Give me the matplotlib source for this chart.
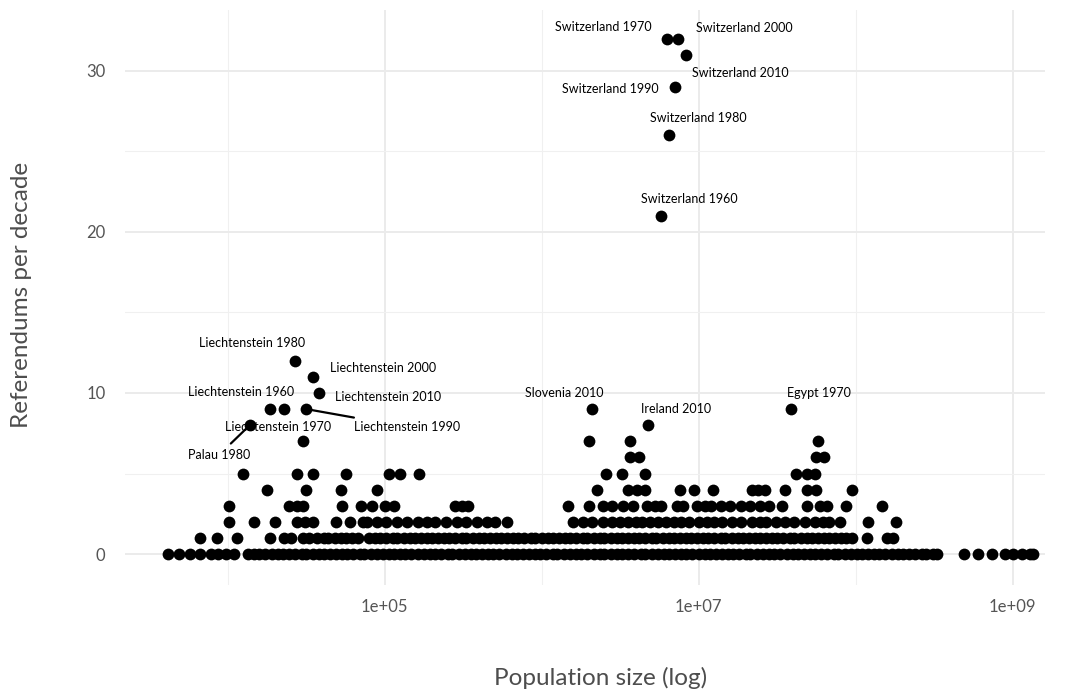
import matplotlib
matplotlib.use("Agg")
import matplotlib.pyplot as plt
from matplotlib.ticker import FixedLocator, FixedFormatter
import numpy as np

# log10 of population size, one list per number of referendums in the decade
refs_0 = [3.62, 3.69, 3.76, 3.82, 3.89, 3.94, 3.99, 4.04,
          4.13, 4.17, 4.20, 4.24, 4.28, 4.32, 4.35, 4.39, 4.43, 4.47, 4.50, 4.54,
          4.58, 4.61, 4.65, 4.69, 4.73, 4.76, 4.80, 4.84, 4.87, 4.91, 4.95, 4.99,
          5.03, 5.06, 5.10, 5.13, 5.17, 5.21, 5.25, 5.29, 5.32, 5.36, 5.40, 5.43,
          5.47, 5.51, 5.55, 5.58, 5.62, 5.66, 5.69, 5.73, 5.77, 5.81, 5.84, 5.88,
          5.92, 5.96, 5.99, 6.03, 6.07, 6.10, 6.14, 6.18, 6.22, 6.25, 6.29, 6.33,
          6.37, 6.40, 6.44, 6.48, 6.51, 6.55, 6.59, 6.63, 6.66, 6.70, 6.74, 6.78,
          6.81, 6.85, 6.89, 6.92, 6.96, 7.00, 7.04, 7.07, 7.11, 7.15, 7.19, 7.22,
          7.26, 7.30, 7.33, 7.37, 7.41, 7.45, 7.48, 7.52, 7.56, 7.60, 7.63, 7.67,
          7.71, 7.74, 7.78, 7.82, 7.86, 7.89, 7.93, 7.97, 8.01, 8.04, 8.08, 8.12,
          8.15, 8.19, 8.23, 8.27, 8.30, 8.34, 8.38, 8.42, 8.45, 8.49, 8.52,
          8.69, 8.78, 8.87, 8.95, 9.00, 9.06, 9.11, 9.13]
refs_1 = [3.82, 3.93, 4.06, 4.27, 4.36, 4.40, 4.48, 4.52,
          4.57, 4.61, 4.64, 4.68, 4.72, 4.75, 4.79, 4.83, 4.90, 4.94, 4.97, 5.01,
          5.05, 5.08, 5.12, 5.16, 5.19, 5.23, 5.27, 5.30, 5.34, 5.38, 5.41, 5.45,
          5.49, 5.52, 5.56, 5.60, 5.63, 5.67, 5.71, 5.74, 5.78, 5.82, 5.85, 5.89,
          5.93, 5.96, 6.00, 6.04, 6.07, 6.11, 6.15, 6.18, 6.22, 6.26, 6.29, 6.33,
          6.37, 6.40, 6.44, 6.48, 6.51, 6.55, 6.59, 6.62, 6.66, 6.70, 6.73, 6.77,
          6.81, 6.84, 6.88, 6.92, 6.95, 6.99, 7.03, 7.06, 7.10, 7.14, 7.17, 7.21,
          7.25, 7.28, 7.32, 7.36, 7.39, 7.43, 7.47, 7.50, 7.54, 7.58, 7.61, 7.65,
          7.69, 7.72, 7.76, 7.80, 7.83, 7.87, 7.91, 7.94, 7.98, 8.07, 8.20, 8.24]
refs_2 = [4.01, 4.17, 4.30, 4.44, 4.49, 4.54, 4.69, 4.78, 4.86, 4.89, 4.95,
          5.01, 5.08, 5.14, 5.21, 5.27, 5.32, 5.39, 5.46, 5.52, 5.59, 5.65, 5.70,
          5.78, 6.20, 6.26, 6.32, 6.39, 6.45, 6.50, 6.55, 6.60, 6.64, 6.69, 6.74,
          6.79, 6.84, 6.89, 6.94, 7.00, 7.05, 7.10, 7.15, 7.21, 7.27, 7.34, 7.39,
          7.43, 7.49, 7.55, 7.61, 7.68, 7.74, 7.79, 7.83, 7.90, 8.08, 8.26]
refs_3 = [4.01, 4.39, 4.44, 4.48, 4.73, 4.85, 4.92, 5.00, 5.06, 5.45, 5.49,
          5.53, 6.17, 6.30, 6.39, 6.45, 6.52, 6.58, 6.67, 6.72, 6.76, 6.86, 6.90,
          6.99, 7.04, 7.08, 7.14, 7.20, 7.27, 7.33, 7.39, 7.45, 7.53, 7.69, 7.77,
          7.82, 7.94, 8.17]
refs_4 = [4.25, 4.50, 4.72, 4.95, 6.35, 6.55, 6.61, 6.66, 6.88, 6.97, 7.09,
          7.34, 7.38, 7.42, 7.55, 7.69, 7.75, 7.98]
refs_5 = [4.10, 4.44, 4.54, 4.75, 5.03, 5.10, 5.22, 6.41, 6.51, 6.66, 7.62,
          7.69, 7.74]
refs_6 = [6.56, 6.62, 7.75, 7.80]
refs_7 = [4.48, 6.30, 6.56, 7.76]
refs_8 = [4.14, 6.68]
refs_9 = [4.27, 4.36, 4.50, 6.32, 7.59]
refs_10 = [4.58]
refs_11 = [4.54]
refs_12 = [4.43]
refs_21 = [6.76]
refs_26 = [6.81]
refs_29 = [6.85]
refs_31 = [6.92]
refs_32 = [6.80, 6.87]

rows = {0: refs_0, 1: refs_1, 2: refs_2, 3: refs_3, 4: refs_4, 5: refs_5,
        6: refs_6, 7: refs_7, 8: refs_8, 9: refs_9, 10: refs_10, 11: refs_11,
        12: refs_12, 21: refs_21, 26: refs_26, 29: refs_29, 31: refs_31,
        32: refs_32}

label_text = ["Switzerland 1970", "Switzerland 2000", "Switzerland 2010",
              "Switzerland 1990", "Switzerland 1980", "Switzerland 1960",
              "Liechtenstein 1980", "Liechtenstein 2000", "Liechtenstein 1960",
              "Liechtenstein 2010", "Liechtenstein 1970", "Liechtenstein 1990",
              "Palau 1980", "Slovenia 2010", "Ireland 2010", "Egypt 1970"]
label_logpop = [6.80, 6.87, 6.92, 6.85, 6.81, 6.76, 4.43, 4.54, 4.27, 4.58,
                4.48, 4.50, 4.14, 6.32, 6.68, 7.59]
label_refs = [32, 32, 31, 29, 26, 21, 12, 11, 9, 10, 7, 9, 8, 9, 8, 9]

# text offsets from the point, in pixels (layout only)
offsets = [(-64, 12), (66, 11), (54, -18), (-65, -2), (29, 17), (28, 17),
           (-43, 18), (71, 9), (-29, 17), (69, -4), (-25, 14), (101, -18),
           (-31, -30), (-28, 16), (28, 16), (28, 16)]
with_line = {"Liechtenstein 1990", "Palau 1980"}

plt.rcParams["font.family"] = ["Lato", "DejaVu Sans"]

fig = plt.figure(figsize=(10.67, 6.90), dpi=100)
ax = fig.add_axes([0.117, 0.152, 0.862, 0.834])

xs, ys = [], []
for r, vals in rows.items():
    xs.extend(10 ** np.array(vals))
    ys.extend([r] * len(vals))
ax.scatter(xs, ys, s=72, color="black", linewidths=0, zorder=3)

for text, lp, r, (dx, dy) in zip(label_text, label_logpop, label_refs, offsets):
    props = None
    if text in with_line:
        props = dict(arrowstyle="-", color="black", lw=1.6, shrinkA=3, shrinkB=0)
    ax.annotate(text, xy=(10 ** lp, r), xytext=(dx, dy),
                textcoords="offset pixels", ha="center", va="center",
                fontsize=9, color="black", arrowprops=props, zorder=4)

ax.set_xscale("log")
ax.set_xlim(10 ** 3.344, 10 ** 9.204)
ax.set_ylim(-1.93, 33.8)

ax.xaxis.set_major_locator(FixedLocator([1e5, 1e7, 1e9]))
ax.xaxis.set_major_formatter(FixedFormatter(["1e+05", "1e+07", "1e+09"]))
ax.xaxis.set_minor_locator(FixedLocator([1e4, 1e6, 1e8]))
ax.yaxis.set_major_locator(FixedLocator([0, 10, 20, 30]))
ax.yaxis.set_minor_locator(FixedLocator([5, 15, 25]))

ax.grid(which="major", color="#EBEBEB", lw=1.4, zorder=0)
ax.grid(which="minor", color="#F0F0F0", lw=0.8, zorder=0)
ax.set_axisbelow(True)
for s in ax.spines.values():
    s.set_visible(False)
ax.tick_params(which="both", length=0, labelsize=12, labelcolor="#555555")
ax.tick_params(axis="x", which="major", pad=10)
ax.tick_params(axis="y", which="major", pad=14)
ax.tick_params(which="minor", labelbottom=False, labelleft=False)

fig.text(601 / 1067, 1 - 678 / 690, "Population size (log)", fontsize=17.5,
         color="#4D4D4D", ha="center", va="center")
fig.text(22 / 1067, 1 - 295 / 690, "Referendums per decade", fontsize=17.5,
         color="#4D4D4D", ha="center", va="center", rotation=90)

fig.savefig("out.png", dpi=100)
